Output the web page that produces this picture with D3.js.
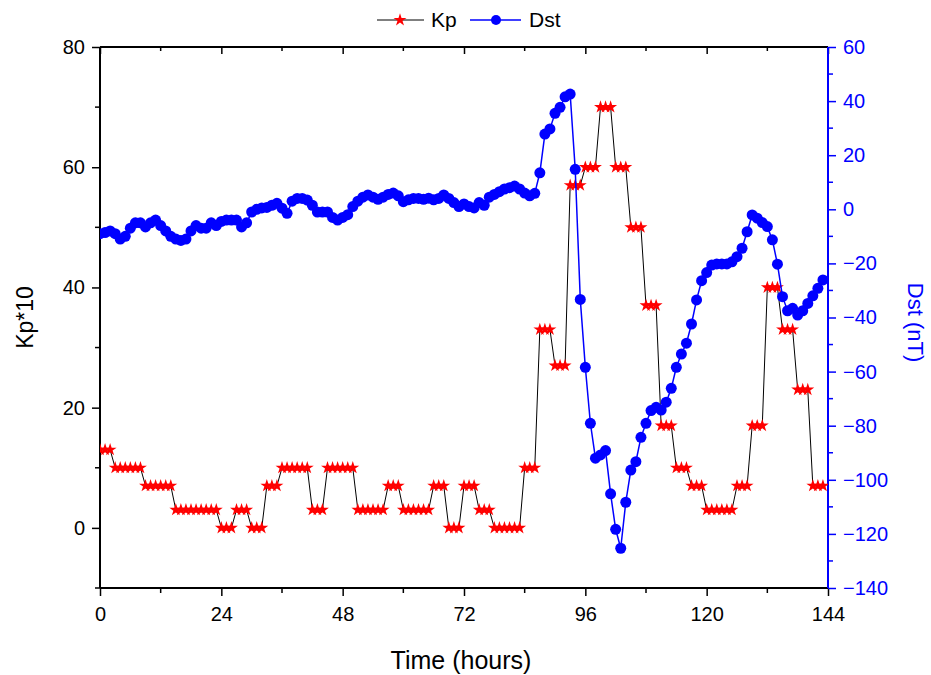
<!DOCTYPE html>
<html>
<head>
<meta charset="utf-8">
<script src="https://cdn.jsdelivr.net/npm/d3@7"></script>
<style>
  body { margin: 0; background: #fff; }
  text { font-family: "Liberation Sans", Arial, sans-serif; }
</style>
</head>
<body>
<svg id="chart" width="931" height="675"></svg>
<script>
// hourly time stamps, 0..143
var hours = d3.range(0, 144);

// Kp*10, three-hour values repeated each hour
var kpBlocks = [13, 10, 10, 7, 7, 3, 3, 3, 0, 3, 0, 7, 10, 10, 3, 10,
                10, 3, 3, 7, 3, 3, 7, 0, 7, 3, 0, 0, 10, 33, 27, 57,
                60, 70, 60, 50, 37, 17, 10, 7, 3, 3, 7, 17, 40, 33, 23, 7];
var kp = [];
kpBlocks.forEach(function (v) { kp.push(v, v, v); });

// Dst (nT), hourly
var dst = [
  -9, -8.6, -8, -9, -11, -10, -7, -5, -5, -6.5,
  -5, -4, -6, -8, -10, -11, -11.5, -11, -8, -6,
  -7, -7, -5, -6, -4.5, -4, -4, -4, -6.5, -5,
  -1, 0, 0.5, 0.7, 1.5, 2.2, 0.4, -1.5, 3, 4,
  4, 3.4, 1.5, -1, -1, -1, -3, -4, -3, -2,
  1, 3, 4.5, 5.3, 4.5, 3.7, 4.5, 5.5, 6, 5,
  2.8, 3.5, 4, 4, 3.7, 4.1, 3.5, 4, 5.3, 4,
  2.5, 1, 2, 1, 0.5, 2.5, 1.5, 4.5, 5.5, 6.5,
  7.5, 8, 8.6, 7.5, 6, 5, 5.9, 13.5, 27.8, 29.7,
  35.5, 37.7, 41.6, 42.6, 14.8, -33.3, -58.4, -79.1, -92, -90.8,
  -89.2, -105.2, -118.3, -125.3, -108.3, -96.4, -93.3, -84.3, -79.1, -74.4,
  -73.2, -74.2, -71.3, -66.2, -58.4, -53.5, -49.5, -42.4, -33.5, -26.4,
  -23.4, -20.6, -20.2, -20.2, -20.2, -19.4, -17.5, -14.4, -8.3, -2.1,
  -3.3, -4.9, -6.4, -11.3, -20.3, -32.3, -37.5, -36.6, -39.1, -37.5,
  -34.8, -32, -29.2, -26.1
];

var xTicks = [0, 24, 48, 72, 96, 120, 144];
var kpTicks = [0, 20, 40, 60, 80];
var dstTicks = [60, 40, 20, 0, -20, -40, -60, -80, -100, -120, -140];

var margin = {top: 47, right: 103, bottom: 87, left: 100},
    width = 931 - margin.left - margin.right,
    height = 675 - margin.top - margin.bottom;

var x = d3.scaleLinear().domain([0, 144]).range([0, width]);
var yKp = d3.scaleLinear().domain([-10, 80]).range([height, 0]);
var yDst = d3.scaleLinear().domain([-140, 60]).range([height, 0]);

var svg = d3.select("#chart")
  .append("g")
  .attr("transform", "translate(" + margin.left + "," + margin.top + ")");

svg.append("clipPath").attr("id", "clip")
  .append("rect").attr("width", width).attr("height", height);

// axes
var bottomAx = svg.append("g")
  .attr("transform", "translate(0," + height + ")")
  .call(d3.axisBottom(x).tickValues(xTicks).tickSize(8).tickPadding(11));
bottomAx.append("g").selectAll("line")
  .data(d3.range(12, 144, 24)).enter().append("line")
  .attr("x1", d => x(d)).attr("x2", d => x(d)).attr("y1", 0).attr("y2", 5)
  .attr("stroke", "#000").attr("stroke-width", 1.5);

var topAx = svg.append("g")
  .call(d3.axisBottom(x).tickValues(xTicks).tickSize(7).tickFormat(""));
topAx.append("g").selectAll("line")
  .data(d3.range(12, 144, 24)).enter().append("line")
  .attr("x1", d => x(d)).attr("x2", d => x(d)).attr("y1", 0).attr("y2", 4)
  .attr("stroke", "#000").attr("stroke-width", 1.5);

var leftAx = svg.append("g")
  .call(d3.axisLeft(yKp).tickValues(kpTicks).tickSize(8).tickPadding(7));
leftAx.append("g").selectAll("line")
  .data([-10, 10, 30, 50, 70]).enter().append("line")
  .attr("x1", 0).attr("x2", -5).attr("y1", d => yKp(d)).attr("y2", d => yKp(d))
  .attr("stroke", "#000").attr("stroke-width", 1.5);

var rightAx = svg.append("g")
  .attr("transform", "translate(" + width + ",0)")
  .call(d3.axisRight(yDst).tickValues(dstTicks).tickSize(8).tickPadding(7));
rightAx.append("g").selectAll("line")
  .data(d3.range(-130, 60, 20)).enter().append("line")
  .attr("x1", 0).attr("x2", 5).attr("y1", d => yDst(d)).attr("y2", d => yDst(d))
  .attr("stroke", "blue").attr("stroke-width", 1.5);

[bottomAx, topAx, leftAx, rightAx].forEach(function (g) {
  g.select(".domain").attr("stroke-width", 2);
  g.selectAll(".tick line").attr("stroke-width", 1.5);
  g.selectAll("text").attr("font-size", 20).attr("fill", "#000")
    .style("font-family", "Liberation Sans, Arial, sans-serif");
});
topAx.select(".domain").attr("d", "M0,0H" + width);
rightAx.select(".domain").attr("stroke", "blue").attr("d", "M0,0V" + height);
rightAx.selectAll(".tick line").attr("stroke", "blue");
rightAx.selectAll("text").attr("fill", "blue");
leftAx.select(".domain").attr("d", "M0,0V" + height);
bottomAx.select(".domain").attr("d", "M0,0H" + width);

// axis titles
svg.append("text")
  .attr("x", width / 2 - 3).attr("y", height + 81)
  .attr("text-anchor", "middle").attr("font-size", 25)
  .text("Time (hours)");
svg.append("text")
  .attr("transform", "translate(-67," + (height / 2) + ") rotate(-90)")
  .attr("text-anchor", "middle").attr("font-size", 23)
  .text("Kp*10");
svg.append("text")
  .attr("transform", "translate(" + (width + 80) + "," + (height / 2 + 5) + ") rotate(90)")
  .attr("text-anchor", "middle").attr("font-size", 22).attr("fill", "blue")
  .text("Dst (nT)");

// data
var plot = svg.append("g").attr("clip-path", "url(#clip)");
var star = d3.symbol().type(d3.symbolStar).size(52);

plot.append("path")
  .datum(hours)
  .attr("fill", "none").attr("stroke", "#000").attr("stroke-width", 1)
  .attr("d", d3.line().x(d => x(d)).y(d => yKp(kp[d])));
plot.append("g").selectAll("path")
  .data(hours).enter().append("path")
  .attr("d", star)
  .attr("transform", d => "translate(" + x(d) + "," + yKp(kp[d]) + ")")
  .attr("fill", "red");

plot.append("path")
  .datum(hours)
  .attr("fill", "none").attr("stroke", "blue").attr("stroke-width", 1.5)
  .attr("d", d3.line().x(d => x(d)).y(d => yDst(dst[d])));
plot.append("g").selectAll("circle")
  .data(hours).enter().append("circle")
  .attr("cx", d => x(d)).attr("cy", d => yDst(dst[d]))
  .attr("r", 5.5).attr("fill", "blue");

// legend
var lg = d3.select("#chart").append("g").attr("transform", "translate(0,20)");
lg.append("line").attr("x1", 377).attr("x2", 424).attr("stroke", "#000").attr("stroke-width", 1);
lg.append("path").attr("d", star).attr("transform", "translate(400,0)").attr("fill", "red");
lg.append("text").attr("x", 431).attr("y", 7).attr("font-size", 21).text("Kp");
lg.append("line").attr("x1", 470).attr("x2", 521).attr("stroke", "blue").attr("stroke-width", 1.5);
lg.append("circle").attr("cx", 496).attr("cy", 0).attr("r", 5).attr("fill", "blue");
lg.append("text").attr("x", 529).attr("y", 7).attr("font-size", 21).text("Dst");
</script>
</body>
</html>
